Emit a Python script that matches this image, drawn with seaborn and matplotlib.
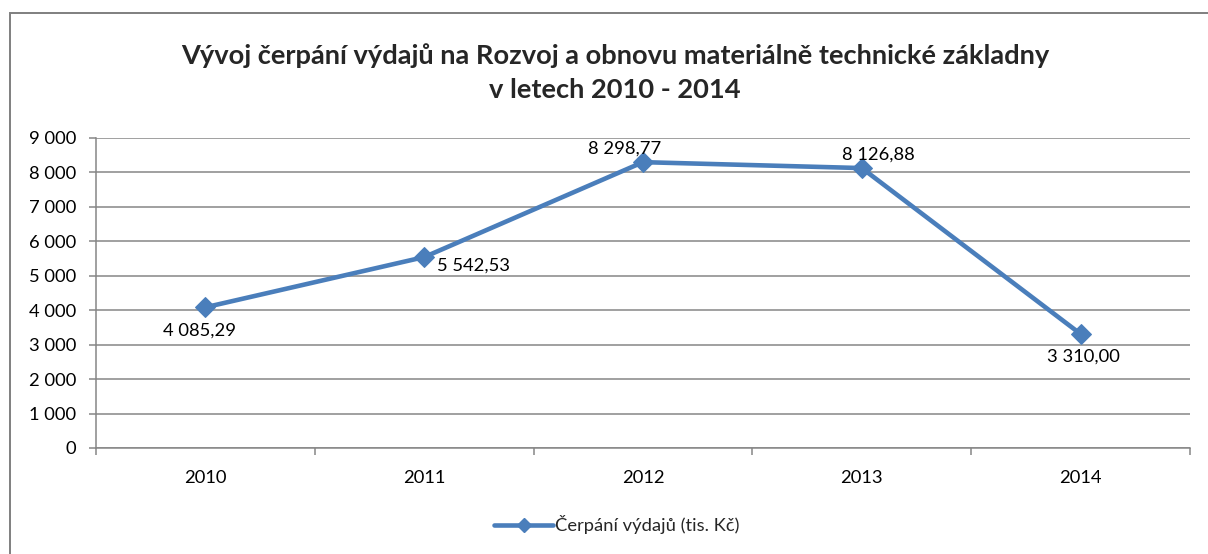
import pandas as pd
import seaborn as sns
import matplotlib.pyplot as plt
from matplotlib.patches import Rectangle
from matplotlib.lines import Line2D
from matplotlib.ticker import FuncFormatter

# data
roky = ['2010', '2011', '2012', '2013', '2014']
cerpani = [4085.29, 5542.53, 8298.77, 8126.88, 3310.00]
nazev_serie = 'Čerpání výdajů (tis. Kč)'
titulek = 'Vývoj čerpání výdajů na Rozvoj a obnovu materiálně technické základny\nv letech 2010 - 2014'

# offsets of the value labels (points), as placed in the reference
label_offsets = [(-4, -17), (9, -6), (-13, 10), (12, 10), (2, -16)]
label_ha = ['center', 'left', 'center', 'center', 'center']

df = pd.DataFrame({'rok': roky, 'hodnota': cerpani})

sns.set_theme(style='white')
plt.rcParams['font.family'] = ['Lato', 'DejaVu Sans']

blue = '#4A7EBB'
grey = '#868686'
fs = 13.2

fig = plt.figure(figsize=(12.08, 5.54), dpi=100)
ax = fig.add_axes([96 / 1208, 1 - 448 / 554, (1190 - 96) / 1208, 310 / 554])

sns.lineplot(data=df, x='rok', y='hodnota', ax=ax, color=blue, linewidth=3.3,
             marker='D', markersize=10.5, markeredgecolor=blue,
             legend=False, sort=False)

def cz_num(v, decimals=0):
    return f'{v:,.{decimals}f}'.replace(',', ' ').replace('.', ',')

for i, v in enumerate(cerpani):
    dx, dy = label_offsets[i]
    ax.annotate(cz_num(v, 2), (i, v), xytext=(dx, dy), textcoords='offset points',
                ha=label_ha[i], va='center', fontsize=fs, color='black')

ax.set_ylim(0, 9000)
ax.set_xlim(-0.5, 4.5)
ax.set_yticks(range(0, 9001, 1000))
ax.yaxis.set_major_formatter(FuncFormatter(lambda v, p: cz_num(v)))
ax.grid(axis='y', color=grey, linewidth=1.1)
ax.set_axisbelow(True)
ax.set_xlabel('')
ax.set_ylabel('')

for s in ['top', 'right']:
    ax.spines[s].set_visible(False)
for s in ['left', 'bottom']:
    ax.spines[s].set_color(grey)
    ax.spines[s].set_linewidth(1.1)

ax.tick_params(axis='y', which='major', left=True, length=5, width=1.1, color=grey,
               pad=9, labelsize=fs, labelcolor='black')
ax.tick_params(axis='x', which='major', bottom=False, length=0, pad=16,
               labelsize=fs, labelcolor='black')
ax.set_xticks([-0.5, 0.5, 1.5, 2.5, 3.5, 4.5], minor=True)
ax.tick_params(axis='x', which='minor', bottom=True, length=5, width=1.1, color=grey)

fig.text(615 / 1208, 1 - 73 / 554, titulek, ha='center', va='center',
         fontsize=19.6, fontweight='bold', linespacing=1.5)

handle = Line2D([], [], color=blue, linewidth=3.3, marker='D', markersize=7,
                markeredgecolor=blue)
fig.legend([handle], [nazev_serie], loc='center', bbox_to_anchor=(617 / 1208, 1 - 525 / 554),
           frameon=False, fontsize=fs, handlelength=3.2, handletextpad=0.1)

# outer chart border (top and left visible)
fig.patches.append(Rectangle((10 / 1208, -0.1), 1.2, 1 - 13 / 554 + 0.1,
                             transform=fig.transFigure, fill=False,
                             edgecolor='#7F7F7F', linewidth=1.4))

fig.savefig('out.png', dpi=100)
